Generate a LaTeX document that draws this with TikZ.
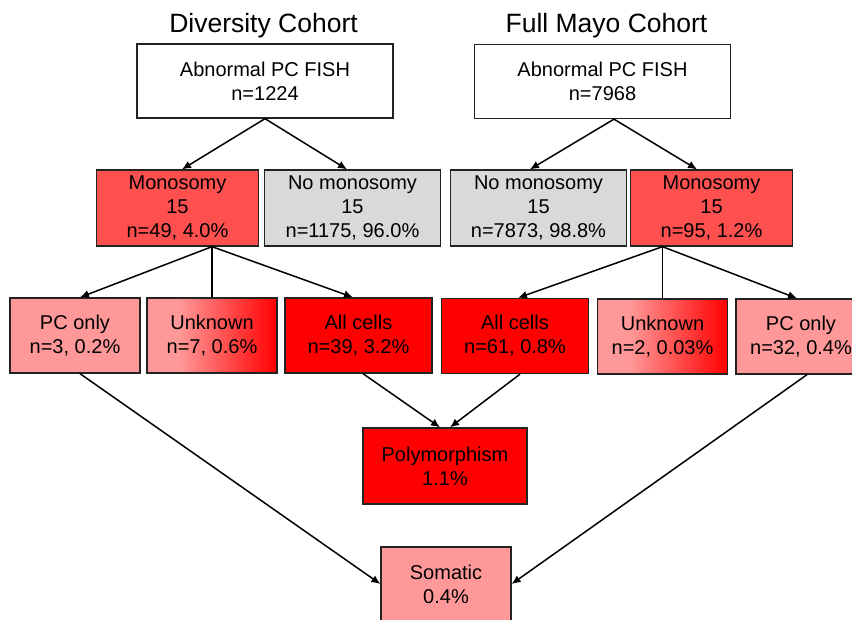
\documentclass[tikz,border=0pt]{standalone}
\usepackage{fontspec}
\setmainfont{Liberation Sans}
\usetikzlibrary{positioning, arrows.meta}

\definecolor{monored}{RGB}{255,80,80}
\definecolor{allred}{RGB}{255,0,0}
\definecolor{pcpink}{RGB}{255,153,153}
\definecolor{nogray}{RGB}{217,217,217}
\definecolor{edgegray}{RGB}{35,35,35}
\pgfdeclarehorizontalshading{unkshade}{100bp}{color(0bp)=(pcpink); color(25bp)=(pcpink); color(37bp)=(pcpink); color(75bp)=(allred); color(100bp)=(allred)}

\newcommand\boxfont{\fontsize{20}{24}\selectfont}
\newcommand\titlefont{\fontsize{26.5}{30}\selectfont}

\tikzset{
  box/.style={draw=edgegray, line width=1.3pt, align=center, inner sep=0pt, font=\boxfont},
  topbox/.style={box, fill=white, minimum width=256pt, minimum height=74pt},
  monobox/.style={box, fill=monored, minimum width=162pt, minimum height=76pt},
  nomonobox/.style={box, fill=nogray, minimum width=176pt, minimum height=76pt},
  pcbox/.style={box, fill=pcpink, minimum width=130pt, minimum height=75pt},
  unkbox/.style={box, shading=unkshade, minimum width=130pt, minimum height=75pt},
  allbox/.style={box, fill=allred, minimum width=147pt, minimum height=75pt},
  cohort/.style={font=\titlefont, inner sep=0pt, anchor=base},
  flow/.style={-{Latex[length=9pt,width=8pt]}, line width=1.5pt},
  link/.style={line width=1.5pt}
}

\begin{document}
\begin{tikzpicture}[x=1pt,y=-1pt]
\useasboundingbox (0,0) rectangle (852,619);

% cohort titles
\node[cohort] (divTitle) at (263.5,32) {Diversity Cohort};
\node[cohort] (mayoTitle) at (606.5,32) {Full Mayo Cohort};

% first level
\node[topbox] (divTop) at (265,81) {Abnormal PC FISH\\n=1224};
\node[topbox] (mayoTop) at (602.5,81.5) {Abnormal PC FISH\\n=7968};

% monosomy level
\node[monobox] (divMono) at (177.5,208) {Monosomy\\15\\n=49, 4.0\%};
\node[nomonobox] (divNoMono) at (352.5,208) {No monosomy\\15\\n=1175, 96.0\%};
\node[nomonobox] (mayoNoMono) at (538.5,208) {No monosomy\\15\\n=7873, 98.8\%};
\node[monobox] (mayoMono) at (711.5,208) {Monosomy\\15\\n=95, 1.2\%};

% cell level
\node[pcbox] (divPC) at (75,335.5) {PC only\\n=3, 0.2\%};
\node[unkbox] (divUnk) at (212,335.5) {Unknown\\n=7, 0.6\%};
\node[allbox] (divAll) at (358.5,335.5) {All cells\\n=39, 3.2\%};
\node[allbox] (mayoAll) at (515,336) {All cells\\n=61, 0.8\%};
\node[unkbox] (mayoUnk) at (662.5,336.5) {Unknown\\n=2, 0.03\%};
\node[pcbox] (mayoPC) at (801,336.5) {PC only\\n=32, 0.4\%};

% outcome
\node[allbox, minimum width=164pt, minimum height=76pt] (poly) at (445,466) {Polymorphism\\1.1\%};
\node[pcbox, minimum height=74pt] (somatic) at (446,584) {Somatic\\0.4\%};

\coordinate (divSplit) at ([xshift=34.5pt]divMono.south);
\coordinate (mayoSplit) at ([xshift=-49pt]mayoMono.south);

\draw[flow] (divTop.south) -- ([xshift=4.5pt]divMono.north);
\draw[flow] (divTop.south) -- ([xshift=-5.5pt]divNoMono.north);
\draw[flow] ([xshift=11.5pt]mayoTop.south) -- ([xshift=-8.5pt]mayoNoMono.north);
\draw[flow] ([xshift=11.5pt]mayoTop.south) -- ([xshift=-14.5pt]mayoMono.north);

\draw[flow] (divSplit) -- ([xshift=5pt]divPC.north);
\draw[link] (divSplit) -- (divUnk.north);
\draw[flow] (divSplit) -- ([xshift=-5.5pt]divAll.north);
\draw[flow] (mayoSplit) -- ([xshift=3pt]mayoAll.north);
\draw[link] (mayoSplit) -- (mayoUnk.north);
\draw[flow] (mayoSplit) -- ([xshift=-4pt]mayoPC.north);

\draw[flow] ([xshift=4.5pt]divAll.south) -- ([xshift=-5pt]poly.north);
\draw[flow] ([xshift=5pt]mayoAll.south) -- ([xshift=5pt]poly.north);
\draw[flow] ([xshift=5pt]divPC.south) -- (somatic.west);
\draw[flow] ([xshift=6pt]mayoPC.south) -- (somatic.east);
\end{tikzpicture}
\end{document}
